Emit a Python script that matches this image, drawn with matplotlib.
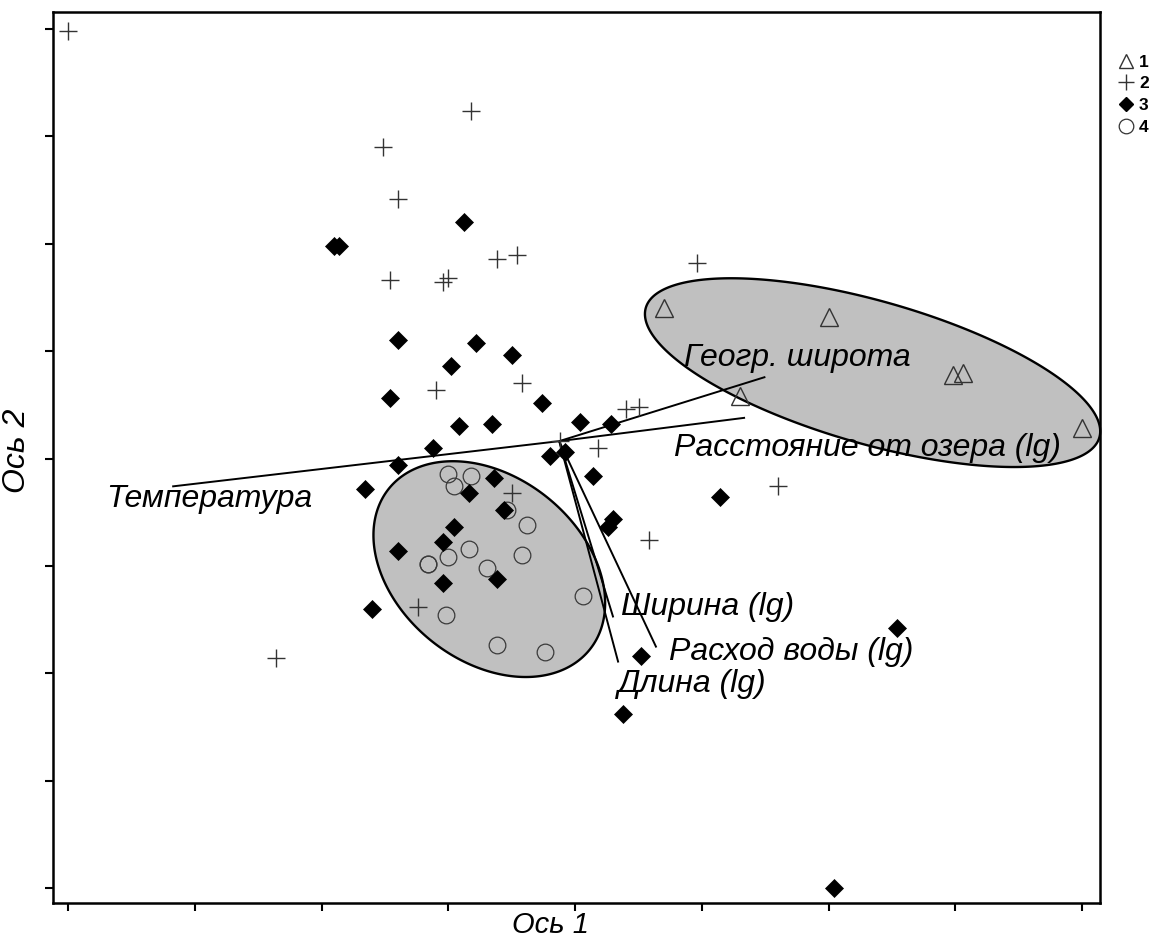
import numpy as np
import matplotlib
matplotlib.use("Agg")
import matplotlib.pyplot as plt
from matplotlib.patches import Polygon
from matplotlib.lines import Line2D

plt.rcParams['font.family'] = ['Liberation Sans', 'DejaVu Sans']

# Site scores on the first two ordination axes, by group
g1_x = [0.35, 1.00, 1.49, 1.53, 0.65, 2.00]
g1_y = [0.70, 0.66, 0.39, 0.40, 0.29, 0.14]

g2_x = [-2.00, -0.41, -0.76, -0.70, -0.73, -0.52, -0.50, -0.31, -0.23, 0.48,
        -0.55, -0.21, 0.20, 0.25, 0.09, 0.80, 0.29, -0.25, -0.62, -1.18, -0.06]
g2_y = [1.99, 1.62, 1.45, 1.21, 0.83, 0.82, 0.84, 0.93, 0.95, 0.91,
        0.32, 0.35, 0.23, 0.24, 0.05, -0.13, -0.38, -0.16, -0.69, -0.93, 0.08]

g3_x = [-0.95, -0.93, -0.44, -0.70, -0.39, -0.25, -0.49, -0.73, -0.13, -0.46,
        -0.33, 0.02, 0.14, -0.56, -0.70, -0.10, -0.04, 0.07, -0.32, -0.83,
        -0.42, -0.28, -0.48, -0.52, -0.70, -0.52, -0.31, -0.80, 0.15, 0.13,
        0.26, 0.57, 1.27, 0.19, 1.02]
g3_y = [0.99, 0.99, 1.10, 0.55, 0.54, 0.48, 0.43, 0.28, 0.26, 0.15,
        0.16, 0.17, 0.16, 0.05, -0.03, 0.01, 0.03, -0.08, -0.09, -0.14,
        -0.16, -0.24, -0.32, -0.39, -0.43, -0.58, -0.56, -0.70, -0.28, -0.32,
        -0.92, -0.18, -0.79, -1.19, -2.00]

g4_x = [-0.50, -0.41, -0.48, -0.27, -0.19, -0.42, -0.50, -0.58, -0.58, -0.35,
        -0.21, -0.51, 0.03, -0.31, -0.12]
g4_y = [-0.07, -0.08, -0.13, -0.24, -0.31, -0.42, -0.46, -0.49, -0.49, -0.51,
        -0.45, -0.73, -0.64, -0.87, -0.90]

# Environmental variables: biplot vectors from a common origin
env_origin = (-0.063, 0.081)
env_names = ['Температура', 'Геогр. широта', 'Расстояние от озера (lg)',
             'Ширина (lg)', 'Расход воды (lg)', 'Длина (lg)']
env_x = [-1.59, 0.75, 0.67, 0.15, 0.32, 0.17]
env_y = [-0.13, 0.38, 0.19, -0.74, -0.88, -0.95]
env_label_x = [-1.85, 0.43, 0.39, 0.18, 0.37, 0.17]
env_label_y = [-0.19, 0.47, 0.05, -0.69, -0.90, -1.05]

# Group envelopes: centre and two conjugate semi-diameters
hull_center = [(1.173, 0.400), (-0.339, -0.515)]
hull_u = [(0.898, -0.273), (0.457, -0.158)]
hull_v = [(0.0, -0.3445), (0.0, -0.477)]

ticks = np.arange(-2.0, 2.01, 0.5)

fig = plt.figure(figsize=(11.53, 9.38), dpi=100)
ax = fig.add_axes([0.046, 0.0373, 0.908, 0.950])
ax.set_xlim(-2.06, 2.07)
ax.set_ylim(-2.07, 2.08)

t = np.linspace(0, 2 * np.pi, 400)
for c, u, v in zip(hull_center, hull_u, hull_v):
    xs = c[0] + u[0] * np.cos(t) + v[0] * np.sin(t)
    ys = c[1] + u[1] * np.cos(t) + v[1] * np.sin(t)
    ax.add_patch(Polygon(np.column_stack([xs, ys]), closed=True,
                         facecolor='#c0c0c0', edgecolor='black', lw=1.7,
                         zorder=1, clip_on=False))

for ex, ey in zip(env_x, env_y):
    ax.plot([env_origin[0], ex], [env_origin[1], ey], color='black',
            lw=1.4, zorder=2, solid_capstyle='butt')

ax.plot(g4_x, g4_y, linestyle='none', marker='o', ms=12, mfc='none',
        mec='#3a3a3a', mew=0.9, zorder=3)
ax.plot(g2_x, g2_y, linestyle='none', marker='+', ms=13, mec='#333333',
        mew=1.0, zorder=4)
ax.plot(g3_x, g3_y, linestyle='none', marker='D', ms=9.5, mfc='black',
        mec='black', mew=0.5, zorder=5)
ax.plot(g1_x, g1_y, linestyle='none', marker='^', ms=12.5, mfc='none',
        mec='#333333', mew=1.0, zorder=5)

for name, lx, ly in zip(env_names, env_label_x, env_label_y):
    ax.text(lx, ly, name, fontsize=23, fontstyle='italic', ha='left',
            va='center', zorder=6)

ax.set_xticks(ticks)
ax.set_yticks(ticks)
ax.set_xticklabels([])
ax.set_yticklabels([])
ax.tick_params(direction='out', length=6, width=1.5, color='black')
for s in ax.spines.values():
    s.set_linewidth(1.8)

ax.set_xlabel('Ось 1', fontsize=21, fontstyle='italic')
ax.xaxis.set_label_coords(0.475, -0.009)
ax.set_ylabel('Ось 2', fontsize=23, fontstyle='italic')
ax.yaxis.set_label_coords(-0.020, 0.508)

handles = [
    Line2D([], [], linestyle='none', marker='^', ms=10.5, mfc='none', mec='#333333', mew=1.0),
    Line2D([], [], linestyle='none', marker='+', ms=11, mec='#333333', mew=1.0),
    Line2D([], [], linestyle='none', marker='D', ms=7.5, mfc='black', mec='black'),
    Line2D([], [], linestyle='none', marker='o', ms=10.5, mfc='none', mec='#333333', mew=0.9),
]
ax.legend(handles, ['1', '2', '3', '4'], loc='upper left',
          bbox_to_anchor=(1.010, 0.962), frameon=False, handlelength=0.8,
          handletextpad=0.35, labelspacing=0.38, borderpad=0.0,
          prop={'weight': 'bold', 'size': 12.5})

fig.savefig('out.png', dpi=100)
